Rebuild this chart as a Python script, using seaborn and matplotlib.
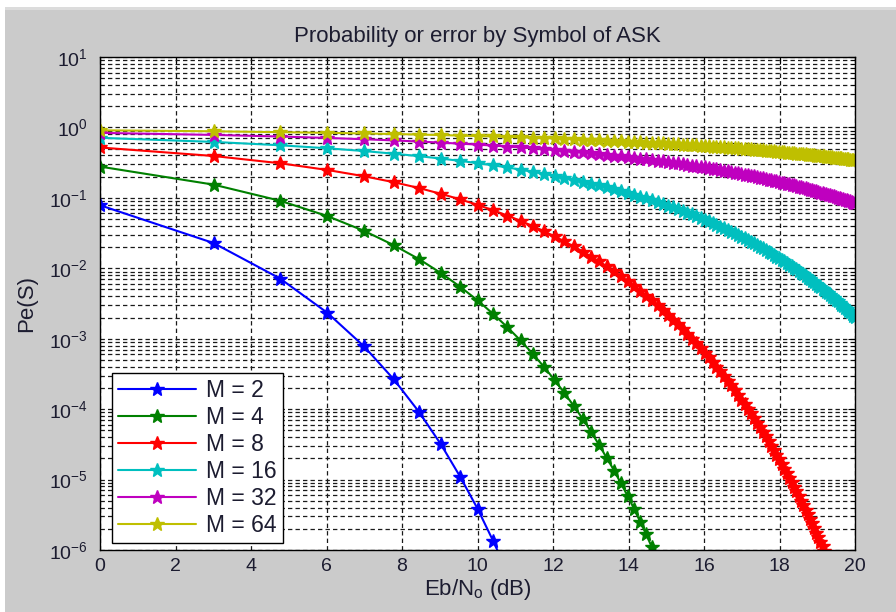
import matplotlib
matplotlib.use("Agg")
import matplotlib.pyplot as plt
from matplotlib.patches import Rectangle
from matplotlib.ticker import LogLocator, NullFormatter
import seaborn as sns

# Eb/No sample points in dB (linear Eb/No = 1 ... 100)
ebno_db = [
    0.00, 3.01, 4.77, 6.02, 6.99, 7.78, 8.45, 9.03, 9.54, 10.00,
    10.41, 10.79, 11.14, 11.46, 11.76, 12.04, 12.30, 12.55, 12.79, 13.01,
    13.22, 13.42, 13.62, 13.80, 13.98, 14.15, 14.31, 14.47, 14.62, 14.77,
    14.91, 15.05, 15.19, 15.31, 15.44, 15.56, 15.68, 15.80, 15.91, 16.02,
    16.13, 16.23, 16.33, 16.43, 16.53, 16.63, 16.72, 16.81, 16.90, 16.99,
    17.08, 17.16, 17.24, 17.32, 17.40, 17.48, 17.56, 17.63, 17.71, 17.78,
    17.85, 17.92, 17.99, 18.06, 18.13, 18.20, 18.26, 18.33, 18.39, 18.45,
    18.51, 18.57, 18.63, 18.69, 18.75, 18.81, 18.86, 18.92, 18.98, 19.03,
    19.08, 19.14, 19.19, 19.24, 19.29, 19.34, 19.40, 19.44, 19.49, 19.54,
    19.59, 19.64, 19.68, 19.73, 19.78, 19.82, 19.87, 19.91, 19.96, 20.00,
]

# Symbol error probability for each constellation size
pe_m2 = [0.0786, 0.0228, 0.00715, 0.00234, 0.000783, 0.000266, 9.14e-05, 3.17e-05,
         1.1e-05, 3.87e-06, 1.36e-06, 4.82e-07]

pe_m4 = [0.278, 0.154, 0.091, 0.0552, 0.0341, 0.0213, 0.0135, 0.00856, 0.00547, 0.00351,
         0.00226, 0.00146, 0.000945, 0.000613, 0.000399, 0.00026, 0.00017, 0.000111, 7.25e-05, 4.75e-05,
         3.11e-05, 2.04e-05, 1.34e-05, 8.83e-06, 5.81e-06, 3.82e-06, 2.52e-06, 1.66e-06, 1.09e-06, 7.23e-07]

pe_m8 = [0.519, 0.393, 0.31, 0.249, 0.203, 0.167, 0.138, 0.114, 0.0952, 0.0796,
         0.0667, 0.0561, 0.0472, 0.0398, 0.0336, 0.0284, 0.0241, 0.0204, 0.0173, 0.0147,
         0.0125, 0.0107, 0.00907, 0.00773, 0.00659, 0.00562, 0.00479, 0.00409, 0.0035, 0.00299,
         0.00255, 0.00218, 0.00187, 0.0016, 0.00137, 0.00117, 0.001, 0.000861, 0.000738, 0.000633,
         0.000543, 0.000466, 0.000399, 0.000343, 0.000294, 0.000253, 0.000217, 0.000186, 0.00016, 0.000137,
         0.000118, 0.000101, 8.72e-05, 7.5e-05, 6.45e-05, 5.54e-05, 4.77e-05, 4.1e-05, 3.53e-05, 3.03e-05,
         2.61e-05, 2.25e-05, 1.93e-05, 1.66e-05, 1.43e-05, 1.23e-05, 1.06e-05, 9.14e-06, 7.87e-06, 6.78e-06,
         5.84e-06, 5.03e-06, 4.33e-06, 3.73e-06, 3.21e-06, 2.77e-06, 2.39e-06, 2.06e-06, 1.77e-06, 1.53e-06,
         1.32e-06, 1.13e-06, 9.78e-07]

pe_m16 = [0.712, 0.623, 0.558, 0.506, 0.462, 0.424, 0.391, 0.361, 0.335, 0.311,
          0.29, 0.27, 0.252, 0.235, 0.22, 0.206, 0.193, 0.181, 0.17, 0.159,
          0.15, 0.141, 0.132, 0.125, 0.117, 0.11, 0.104, 0.098, 0.0924, 0.0871,
          0.0821, 0.0775, 0.0731, 0.069, 0.0652, 0.0616, 0.0581, 0.0549, 0.0519, 0.0491,
          0.0464, 0.0439, 0.0415, 0.0392, 0.0371, 0.0351, 0.0332, 0.0315, 0.0298, 0.0282,
          0.0267, 0.0253, 0.0239, 0.0227, 0.0215, 0.0203, 0.0193, 0.0183, 0.0173, 0.0164,
          0.0155, 0.0147, 0.014, 0.0132, 0.0125, 0.0119, 0.0113, 0.0107, 0.0101, 0.00962,
          0.00913, 0.00866, 0.00821, 0.00779, 0.00739, 0.00702, 0.00666, 0.00632, 0.006, 0.00569,
          0.0054, 0.00513, 0.00487, 0.00462, 0.00439, 0.00416, 0.00395, 0.00375, 0.00356, 0.00338,
          0.00321, 0.00305, 0.0029, 0.00275, 0.00261, 0.00248, 0.00236, 0.00224, 0.00213, 0.00202]

pe_m32 = [0.837, 0.783, 0.743, 0.709, 0.68, 0.654, 0.63, 0.609, 0.588, 0.57,
          0.552, 0.536, 0.52, 0.505, 0.491, 0.478, 0.465, 0.453, 0.441, 0.43,
          0.419, 0.409, 0.399, 0.389, 0.38, 0.371, 0.362, 0.353, 0.345, 0.337,
          0.33, 0.322, 0.315, 0.308, 0.301, 0.295, 0.288, 0.282, 0.276, 0.27,
          0.264, 0.259, 0.253, 0.248, 0.243, 0.238, 0.233, 0.228, 0.223, 0.219,
          0.214, 0.21, 0.206, 0.202, 0.198, 0.194, 0.19, 0.186, 0.182, 0.179,
          0.175, 0.172, 0.169, 0.165, 0.162, 0.159, 0.156, 0.153, 0.15, 0.147,
          0.144, 0.142, 0.139, 0.136, 0.134, 0.131, 0.129, 0.126, 0.124, 0.122,
          0.119, 0.117, 0.115, 0.113, 0.111, 0.109, 0.107, 0.105, 0.103, 0.101,
          0.0991, 0.0973, 0.0956, 0.0938, 0.0921, 0.0905, 0.0888, 0.0872, 0.0856, 0.0841]

pe_m64 = [0.911, 0.881, 0.857, 0.838, 0.821, 0.806, 0.792, 0.779, 0.766, 0.755,
          0.744, 0.734, 0.724, 0.714, 0.705, 0.697, 0.688, 0.68, 0.672, 0.664,
          0.657, 0.65, 0.643, 0.636, 0.629, 0.623, 0.616, 0.61, 0.604, 0.598,
          0.592, 0.587, 0.581, 0.575, 0.57, 0.565, 0.56, 0.554, 0.549, 0.545,
          0.54, 0.535, 0.53, 0.526, 0.521, 0.517, 0.512, 0.508, 0.504, 0.499,
          0.495, 0.491, 0.487, 0.483, 0.479, 0.475, 0.472, 0.468, 0.464, 0.46,
          0.457, 0.453, 0.45, 0.446, 0.443, 0.439, 0.436, 0.433, 0.429, 0.426,
          0.423, 0.42, 0.416, 0.413, 0.41, 0.407, 0.404, 0.401, 0.398, 0.395,
          0.393, 0.39, 0.387, 0.384, 0.381, 0.379, 0.376, 0.373, 0.371, 0.368,
          0.365, 0.363, 0.36, 0.358, 0.355, 0.353, 0.35, 0.348, 0.346, 0.343]

series_labels = ["M = 2", "M = 4", "M = 8", "M = 16", "M = 32", "M = 64"]
series_values = [pe_m2, pe_m4, pe_m8, pe_m16, pe_m32, pe_m64]
series_colors = ["#0000ff", "#008000", "#ff0000", "#00bfbf", "#bf00bf", "#bfbf00"]

x_ticks = [0, 2, 4, 6, 8, 10, 12, 14, 16, 18, 20]

sns.set_theme(style="white")
plt.rcParams["font.family"] = ["Liberation Sans", "DejaVu Sans"]
plt.rcParams["mathtext.default"] = "regular"
plt.rcParams["mathtext.fontset"] = "custom"
plt.rcParams["mathtext.rm"] = "Liberation Sans"

text_color = "#1c1c30"
bg_gray = "#cbcbcb"
tick_size = 14
label_size = 16

fig = plt.figure(figsize=(8.96, 6.12), dpi=100, facecolor=bg_gray)
fig.patch.set_edgecolor(bg_gray)
fig.patch.set_linewidth(0)
ax = fig.add_axes([100 / 896, 1 - 550 / 612, 755 / 896, 493 / 612])
ax.set_facecolor("white")

# window frame strips along the top and left edges
fig.add_artist(Rectangle((0, 1 - 7 / 612), 1, 7 / 612, transform=fig.transFigure,
                         facecolor="white", edgecolor="none", zorder=-5))
fig.add_artist(Rectangle((0, 1 - 10 / 612), 1, 3 / 612, transform=fig.transFigure,
                         facecolor="#dcdcdc", edgecolor="none", zorder=-5))
fig.add_artist(Rectangle((0, 0), 5 / 896, 1, transform=fig.transFigure,
                         facecolor="white", edgecolor="none", zorder=-5))

for label, values, color in zip(series_labels, series_values, series_colors):
    sns.lineplot(x=ebno_db[:len(values)], y=values, ax=ax, color=color, label=label,
                 marker="*", markersize=10.5, markeredgewidth=1.0, markeredgecolor=color,
                 linewidth=1.5, sort=False)

ax.set_yscale("log")
ax.set_xlim(0, 20)
ax.set_ylim(1e-6, 1e1)
ax.set_xticks(x_ticks)
ax.yaxis.set_major_locator(LogLocator(base=10, numticks=20))
ax.yaxis.set_minor_locator(LogLocator(base=10, subs=range(2, 10), numticks=100))
ax.yaxis.set_minor_formatter(NullFormatter())

grid_kw = dict(color="#1a1a1a", linestyle=(0, (3.5, 2.5)), linewidth=0.9)
ax.grid(True, which="major", axis="both", **grid_kw)
ax.grid(True, which="minor", axis="y", **grid_kw)
ax.set_axisbelow(True)

for side in ["left", "right", "top", "bottom"]:
    ax.spines[side].set_visible(True)
    ax.spines[side].set_color("black")
    ax.spines[side].set_linewidth(1.0)

ax.tick_params(axis="both", which="both", direction="in", top=True, right=True,
               colors="black", labelcolor=text_color, labelsize=tick_size)
ax.tick_params(axis="both", which="major", length=5, width=0.8)
ax.tick_params(axis="y", which="minor", length=3, width=0.6)
ax.tick_params(axis="x", which="major", pad=6)
ax.tick_params(axis="y", which="major", pad=9)

ax.set_title("Probability or error by Symbol of ASK", fontsize=label_size, color=text_color, pad=11)
ax.set_xlabel(r"Eb/N$_{o}$ (dB)", fontsize=label_size, color=text_color, labelpad=1)
ax.set_ylabel("Pe(S)", fontsize=label_size, color=text_color, labelpad=8)

leg = ax.legend(loc="lower left", bbox_to_anchor=(12 / 755, 7 / 493), fontsize=16.5,
                frameon=True, fancybox=False, framealpha=1, edgecolor="black",
                handlelength=3.4, handletextpad=0.4, labelspacing=0.17,
                borderpad=0.28, borderaxespad=0)
leg.get_frame().set_linewidth(1.0)
for t in leg.get_texts():
    t.set_color(text_color)

fig.savefig("out.png", dpi=100, facecolor=bg_gray, edgecolor=bg_gray)
